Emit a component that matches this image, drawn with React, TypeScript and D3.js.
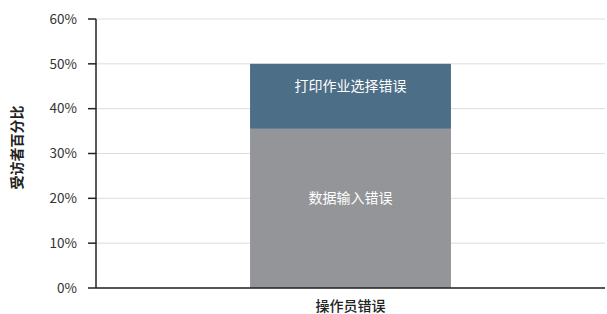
import { scaleBand, scaleLinear } from 'd3'

const categories = ['操作员错误']
const seriesNames = ['数据输入错误', '打印作业选择错误']
const seriesValues = [[35.5], [14.5]]
const seriesColors = ['#939598', '#4d6e87']
const yTickValues = [0, 10, 20, 30, 40, 50, 60]

const chartWidth = 607
const chartHeight = 314
const margin = { top: 19, right: 2, bottom: 26, left: 96 }
const fontFamily = '"Noto Sans CJK SC", "Noto Sans", sans-serif'

export default function App() {
  const innerWidth = chartWidth - margin.left - margin.right
  const innerHeight = chartHeight - margin.top - margin.bottom

  const xScale = scaleBand().domain(categories).range([0, innerWidth]).padding(0.434)
  const yScale = scaleLinear().domain([0, 60]).range([innerHeight, 0])

  return (
    <svg
      width={chartWidth}
      height={chartHeight}
      style={{ position: 'absolute', left: 0, top: 0, fontFamily }}
    >
      <g transform={`translate(${margin.left}, ${margin.top})`}>
        {yTickValues.map((tick) => (
          <line
            key={`grid-${tick}`}
            x1={0}
            x2={innerWidth}
            y1={yScale(tick)}
            y2={yScale(tick)}
            stroke="#dddddd"
            strokeWidth={1}
          />
        ))}

        {categories.map((cat, ci) => {
          let acc = 0
          return seriesNames.map((name, si) => {
            const v = seriesValues[si][ci]
            const y0 = yScale(acc)
            const y1 = yScale(acc + v)
            acc += v
            const x = xScale(cat) ?? 0
            return (
              <g key={`${cat}-${name}`}>
                <rect
                  x={x}
                  y={y1}
                  width={xScale.bandwidth()}
                  height={y0 - y1}
                  fill={seriesColors[si]}
                />
                <text
                  x={x + xScale.bandwidth() / 2}
                  y={(y0 + y1) / 2 - 9}
                  textAnchor="middle"
                  dominantBaseline="middle"
                  fill="#ffffff"
                  fontSize={14}
                >
                  {name}
                </text>
              </g>
            )
          })
        })}

        {yTickValues.map((tick) => (
          <g key={`tick-${tick}`}>
            <line x1={-8} x2={0} y1={yScale(tick)} y2={yScale(tick)} stroke="#222" strokeWidth={1.5} />
            <text
              x={-19}
              y={yScale(tick)}
              dy="0.35em"
              textAnchor="end"
              fontSize={13.5}
              fill="#333"
            >
              {tick}%
            </text>
          </g>
        ))}

        <line x1={0} x2={0} y1={0} y2={innerHeight} stroke="#222" strokeWidth={1.5} />
        <line x1={0} x2={innerWidth} y1={innerHeight} y2={innerHeight} stroke="#222" strokeWidth={1.5} />

        {categories.map((cat) => (
          <text
            key={`xl-${cat}`}
            x={(xScale(cat) ?? 0) + xScale.bandwidth() / 2}
            y={innerHeight + 18}
            dy="0.35em"
            textAnchor="middle"
            fontSize={14}
            fill="#222"
            fontWeight={500}
          >
            {cat}
          </text>
        ))}

        <text
          transform={`translate(${-78}, ${innerHeight / 2 - 6}) rotate(-90)`}
          textAnchor="middle"
          dominantBaseline="middle"
          fontSize={14}
          fontWeight="bold"
          fill="#222"
        >
          受访者百分比
        </text>
      </g>
    </svg>
  )
}
